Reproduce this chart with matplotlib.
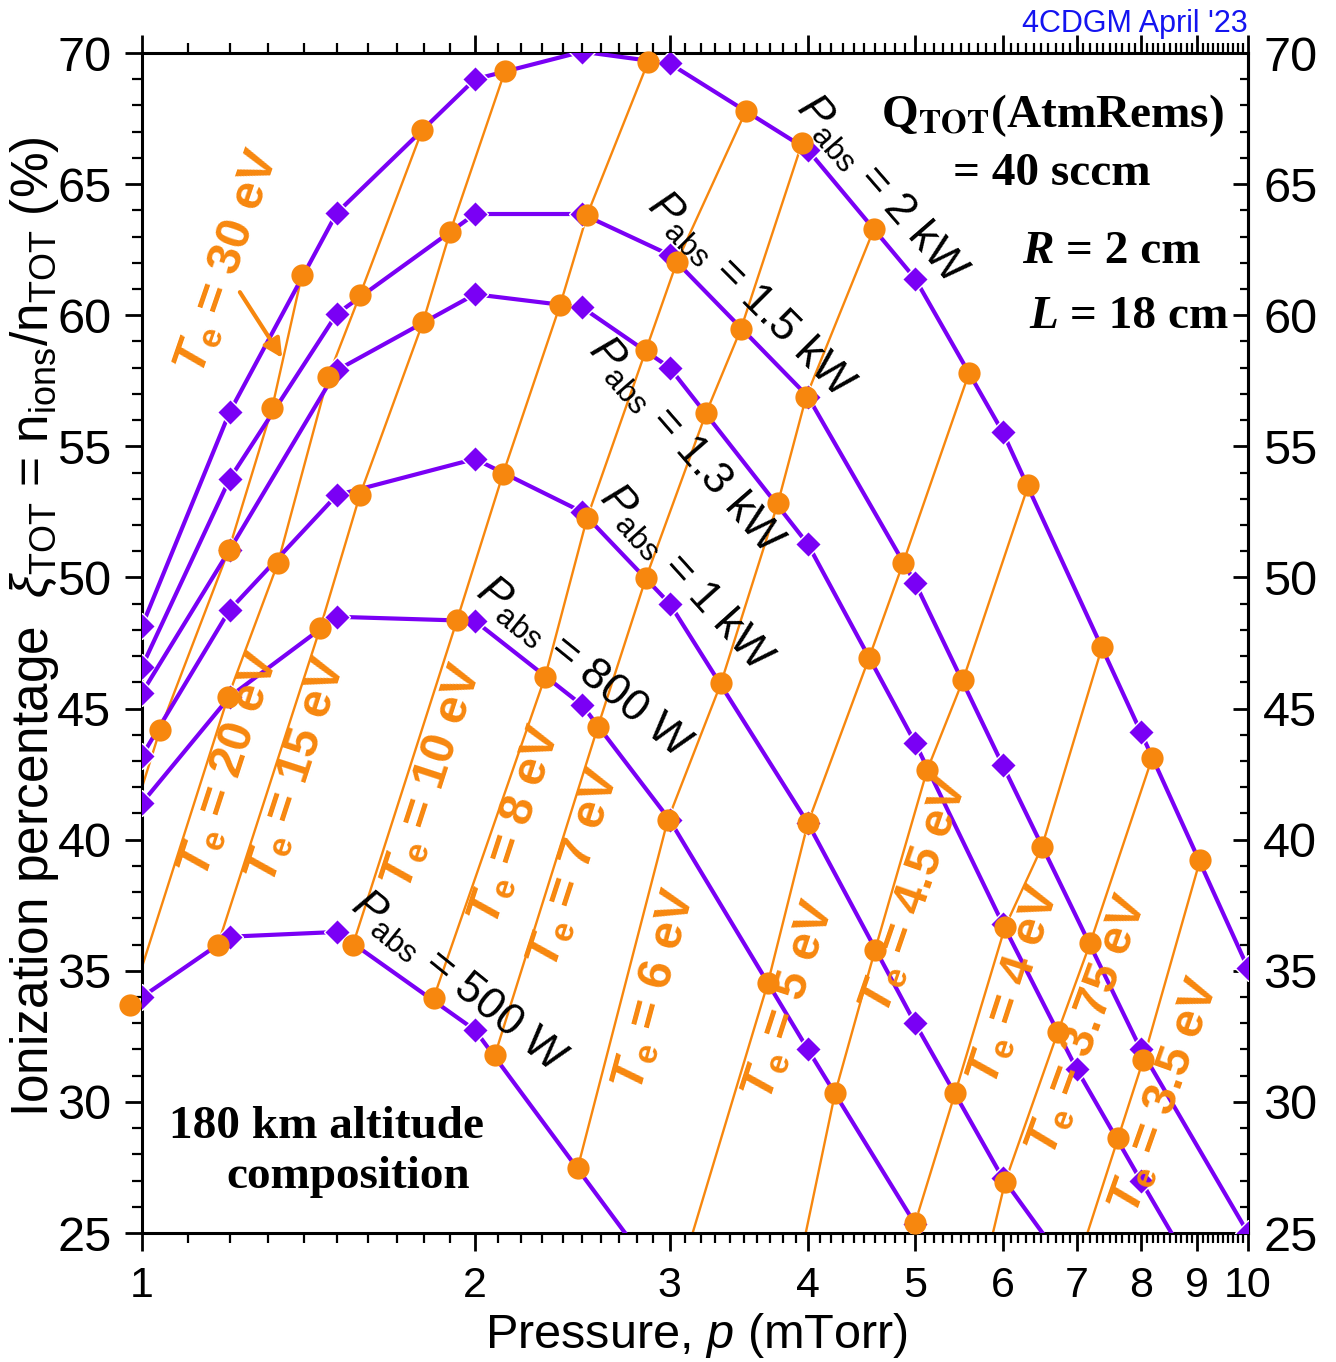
import numpy as np
import matplotlib.pyplot as plt
from matplotlib.ticker import FixedLocator, MultipleLocator, NullFormatter

plt.rcParams['font.family'] = ['Liberation Sans', 'DejaVu Sans']
plt.rcParams['mathtext.fontset'] = 'custom'
plt.rcParams['mathtext.rm'] = 'Liberation Sans'
plt.rcParams['mathtext.it'] = 'Liberation Sans:italic'
plt.rcParams['mathtext.bf'] = 'Liberation Sans:bold'
plt.rcParams['mathtext.bfit'] = 'Liberation Sans:italic:bold'

PURPLE = '#7A00F5'
ORANGE = '#F7870E'

# ionization percentage (%) vs pressure (mTorr) for each absorbed power
pabs_labels = ['2 kW', '1.5 kW', '1.3 kW', '1 kW', '800 W', '500 W']
p_2kw = [1, 1.2, 1.5, 2, 2.5, 3, 4, 5, 6, 8, 10]
xi_2kw = [48.15, 56.3, 63.9, 69.0, 70.05, 69.6, 66.3, 61.4, 55.55, 44.1, 35.1]
p_1500w = [1, 1.2, 1.5, 2, 2.5, 3, 4, 5, 6, 8, 10]
xi_1500w = [46.6, 53.75, 60.05, 63.86, 63.86, 62.3, 56.9, 49.8, 42.85, 32.0, 25.0]
p_1300w = [1, 1.2, 1.5, 2, 2.5, 3, 4, 5, 6, 7, 8, 10]
xi_1300w = [45.6, 51.05, 57.9, 60.8, 60.3, 58.0, 51.27, 43.7, 36.8, 31.25, 27.0, 20.0]
p_1kw = [1, 1.2, 1.5, 2, 2.5, 3, 4, 5, 6, 7]
xi_1kw = [43.2, 48.76, 53.14, 54.52, 52.5, 49.0, 40.63, 33.0, 27.1, 23.2]
p_800w = [1, 1.2, 1.5, 2, 2.5, 3, 4, 5, 6]
xi_800w = [41.4, 45.45, 48.5, 48.34, 45.13, 40.75, 32.0, 25.35, 19.9]
p_500w = [1, 1.2, 1.5, 2, 3]
xi_500w = [34.0, 36.3, 36.48, 32.74, 22.7]

pabs_p = [p_2kw, p_1500w, p_1300w, p_1kw, p_800w, p_500w]
pabs_xi = [xi_2kw, xi_1500w, xi_1300w, xi_1kw, xi_800w, xi_500w]

# constant electron temperature lines (points from 500 W up to 2 kW)
te_labels = ['30', '20', '15', '10', '8', '7', '6', '5', '4.5', '4', '3.75', '3.5']
te_p = [
    [1.038, 1.198, 1.311, 1.395],
    [0.975, 1.196, 1.327, 1.473, 1.574, 1.792],
    [1.171, 1.449, 1.574, 1.795, 1.899, 2.129],
    [1.551, 1.927, 2.12, 2.388, 2.526, 2.868],
    [1.835, 2.314, 2.526, 2.855, 3.045, 3.516],
    [2.085, 2.583, 2.855, 3.236, 3.479, 3.952],
    [2.477, 2.988, 3.338, 3.758, 3.985, 4.59],
    [3.68, 4.0, 4.543, 4.877, 5.595],
    [4.233, 4.6, 5.127, 5.525, 6.33],
    [5.0, 5.435, 6.03, 6.51, 7.38],
    [6.03, 6.73, 7.20, 8.19],
    [7.63, 8.04, 9.05],
]
te_xi = [
    [44.18, 51.05, 56.46, 61.53],
    [33.69, 45.44, 50.55, 57.64, 60.77, 67.06],
    [35.98, 48.07, 53.14, 59.74, 63.17, 69.31],
    [35.98, 48.38, 53.94, 60.39, 63.82, 69.66],
    [33.96, 46.2, 52.27, 58.67, 62.03, 67.79],
    [31.79, 44.3, 49.98, 56.27, 59.47, 66.57],
    [27.48, 40.75, 45.97, 52.84, 56.88, 63.29],
    [34.53, 40.63, 46.93, 50.55, 57.80],
    [30.34, 35.79, 42.65, 46.09, 53.52],
    [25.38, 30.34, 36.67, 39.72, 47.35],
    [26.94, 32.66, 36.06, 43.11],
    [28.62, 31.6, 39.22],
]
# next point of each line, lying outside the frame
te_tail_p = [0.984, None, None, None, None, None, None, 3.03, 3.68, None, 5.64, 6.96]
te_tail_xi = [41.05, None, None, None, None, None, None, 22.7, 18.1, None, 21.8, 23.4]

fig = plt.figure(figsize=(13.36, 13.62), dpi=100)
ax = fig.add_axes([0.10629, 0.09471, 0.82784, 0.86637])

for p, xi in zip(pabs_p, pabs_xi):
    ax.plot(p, xi, color=PURPLE, lw=3, marker='D', ms=13.5,
            mec='white', mew=1.0, zorder=3)

for i in range(len(te_labels)):
    lp = list(te_p[i])
    lx = list(te_xi[i])
    if te_tail_p[i] is not None:
        lp = [te_tail_p[i]] + lp
        lx = [te_tail_xi[i]] + lx
    ax.plot(lp, lx, color=ORANGE, lw=1.7, zorder=2)
    ax.plot(te_p[i], te_xi[i], 'o', color=ORANGE, ms=16, mec='none',
            clip_on=False, zorder=4)

ax.set_xscale('log')
ax.set_xlim(1, 10)
ax.set_ylim(25, 70)

ax.set_xticks(range(1, 11), [str(v) for v in range(1, 11)])
minor_x = [i + 0.1 * k for i in range(1, 10) for k in range(1, 10)]
ax.xaxis.set_minor_locator(FixedLocator(minor_x))
ax.xaxis.set_minor_formatter(NullFormatter())
ax.set_yticks(range(25, 71, 5))
ax.yaxis.set_minor_locator(MultipleLocator(1))

ax.tick_params(axis='x', which='major', direction='out', length=13, width=2,
               top=True, labelsize=31, pad=11)
ax.tick_params(axis='x', which='minor', direction='out', length=7.5,
               width=1.6, top=True)
ax.tick_params(axis='y', which='major', direction='out', length=12, width=2,
               left=True, right=False, labelsize=35, pad=10)
ax.tick_params(axis='y', which='minor', direction='out', length=7,
               width=1.6, left=True, right=False)
for s in ax.spines.values():
    s.set_linewidth(2.2)

sec = ax.secondary_yaxis('right')
sec.set_yticks(range(25, 71, 5))
sec.yaxis.set_minor_locator(MultipleLocator(1))
sec.tick_params(axis='y', which='major', direction='in', length=11, width=2,
                labelsize=35, pad=11)
sec.tick_params(axis='y', which='minor', direction='in', length=6, width=1.6)
sec.spines['right'].set_linewidth(2.2)

fig.text(0.521, 0.0198, r'Pressure, $\mathit{p}$ (mTorr)', ha='center',
         va='center', fontsize=35)
fig.text(0.026, 0.5396,
         r'Ionization percentage  $\xi_{\mathrm{TOT}}$ = n$_{\mathrm{ions}}$/n$_{\mathrm{TOT}}$ (%)',
         ha='center', va='center', rotation=90, fontsize=37)
fig.text(1248 / 1336, 1 - 32 / 1362, "4CDGM April '23", ha='right',
         va='baseline', color='#1414F0', fontsize=22)

# power labels along the purple curves
pabs_pos = [(4.66, 64.8, -49), (3.55, 60.77, -45), (3.10, 55.05, -49),
            (3.10, 49.98, -48), (2.505, 46.54, -39), (1.93, 34.57, -39)]
for lab, (x, y, rot) in zip(pabs_labels, pabs_pos):
    ax.text(x, y, r'$\mathit{P}_{\mathrm{abs}}$ = ' + lab, rotation=rot,
            rotation_mode='anchor', ha='center', va='center', fontsize=32,
            zorder=5)

# electron temperature labels along the orange lines
te_pos = [(1.196, 62.03, 71), (1.201, 42.85, 72), (1.381, 42.65, 72),
          (1.833, 42.4, 72), (2.174, 40.56, 72), (2.463, 38.92, 72),
          (2.91, 34.26, 75), (3.854, 33.88, 72), (5.0, 37.89, 71),
          (6.158, 34.45, 72), (7.17, 32.93, 70), (8.41, 30.26, 70.5)]
for lab, (x, y, rot) in zip(te_labels, te_pos):
    ax.text(x, y, r'$\mathbfit{T}_{\mathbf{e}}$ = ' + lab + ' eV',
            rotation=rot, rotation_mode='anchor', ha='center', va='center',
            fontsize=35, fontweight='bold', color=ORANGE, zorder=5)

ax.annotate('', xy=(1.339, 58.37), xytext=(1.226, 60.88),
            arrowprops=dict(arrowstyle='-|>', color=ORANGE, lw=3,
                            mutation_scale=28, shrinkA=0, shrinkB=0),
            zorder=5)

serif = dict(family='Liberation Serif', fontweight='bold', fontsize=34,
             transform=ax.transAxes, zorder=5)
ax.text(0.8228, 0.9373, r'Q$_{\mathbf{TOT}}$(AtmRems)', ha='center',
        va='baseline', math_fontfamily='stix', **serif)
ax.text(0.8228, 0.888, '= 40 sccm', ha='center', va='baseline', **serif)
ax.text((1054 - 142) / 1106, 0.822, 'R', ha='right', va='baseline',
        style='italic', **serif)
ax.text((1054 - 142) / 1106, 0.822, ' = 2 cm', ha='left', va='baseline',
        **serif)
ax.text((1058 - 142) / 1106, 0.767, 'L', ha='right', va='baseline',
        style='italic', **serif)
ax.text((1058 - 142) / 1106, 0.767, ' = 18 cm', ha='left', va='baseline',
        **serif)
ax.text(0.1664, 0.0805, '180 km altitude', ha='center', va='baseline',
        **serif)
ax.text(0.1863, 0.038, 'composition', ha='center', va='baseline', **serif)

fig.savefig('out.png', dpi=100)
